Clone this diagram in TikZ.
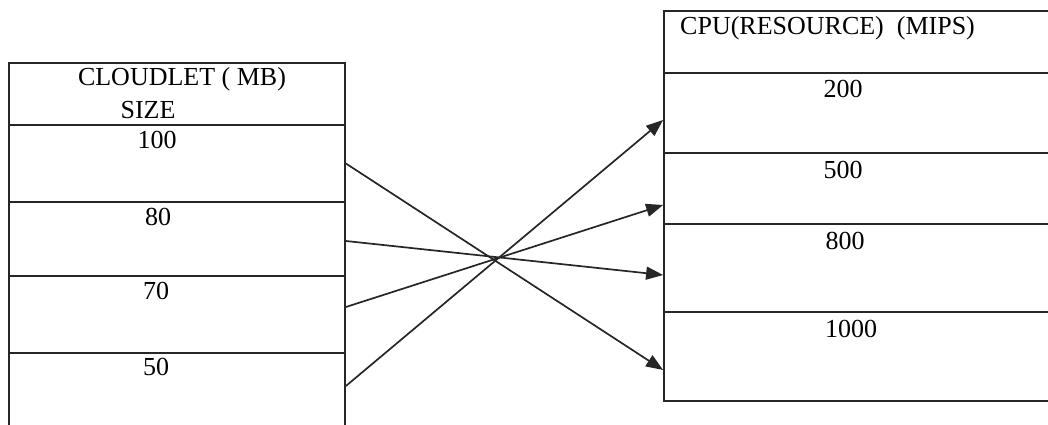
\documentclass[tikz,border=0pt]{standalone}
\usepackage{fontspec}
\setmainfont{Liberation Serif}
\usetikzlibrary{arrows.meta}
\begin{document}
\begin{tikzpicture}[x=1pt,y=-1pt,
  cell/.style={draw=black!85, line width=1.8pt, inner sep=0pt, minimum width=#1},
  lcell/.style={cell=336pt},
  rcell/.style={cell=436pt},
  txt/.style={font=\fontsize{26}{30}\selectfont, anchor=base, inner sep=0pt},
  link/.style={draw=black!85, line width=1.7pt, -{Triangle[length=17pt,width=13pt]}}]
\useasboundingbox (0,0) rectangle (1048,425);
% left table
\node[lcell, minimum height=62pt] (lh)   at (177,94) {};
\node[lcell, minimum height=77pt] (l100) at (177,163.5) {};
\node[lcell, minimum height=74pt] (l80)  at (177,239) {};
\node[lcell, minimum height=77pt] (l70)  at (177,314.5) {};
\node[lcell, minimum height=92pt] (l50)  at (177,399) {};
\node[txt] (tl1) at (182,86) {CLOUDLET ( MB)};
\node[txt] (tl2) at (148,118) {SIZE};
\node[txt] (t100) at (157,148) {100};
\node[txt] (t80)  at (158,225) {80};
\node[txt] (t70)  at (156,299) {70};
\node[txt] (t50)  at (156,375) {50};
% right table
\node[rcell, minimum height=62pt] (rh)    at (882,42) {};
\node[rcell, minimum height=80pt] (r200)  at (882,113) {};
\node[rcell, minimum height=71pt] (r500)  at (882,188.5) {};
\node[rcell, minimum height=88pt] (r800)  at (882,268) {};
\node[rcell, minimum height=89pt] (r1000) at (882,356.5) {};
\node[txt, anchor=base west] (tr1) at (680,35) {CPU(RESOURCE)\ \ (MIPS)};
\node[txt] (t200)  at (843,98) {200};
\node[txt] (t500)  at (843,178) {500};
\node[txt] (t800)  at (845,249) {800};
\node[txt] (t1000) at (851,337) {1000};
% connectors
\draw[link] (l100.east) -- ([yshift=-13.5pt]r1000.west);
\draw[link] ([yshift=-2pt]l80.east) -- ([yshift=-7pt]r800.west);
\draw[link] ([yshift=7.5pt]l70.east) -- ([yshift=-16.5pt]r500.west);
\draw[link] ([yshift=13pt]l50.east) -- ([yshift=-7pt]r200.west);
\end{tikzpicture}
\end{document}
